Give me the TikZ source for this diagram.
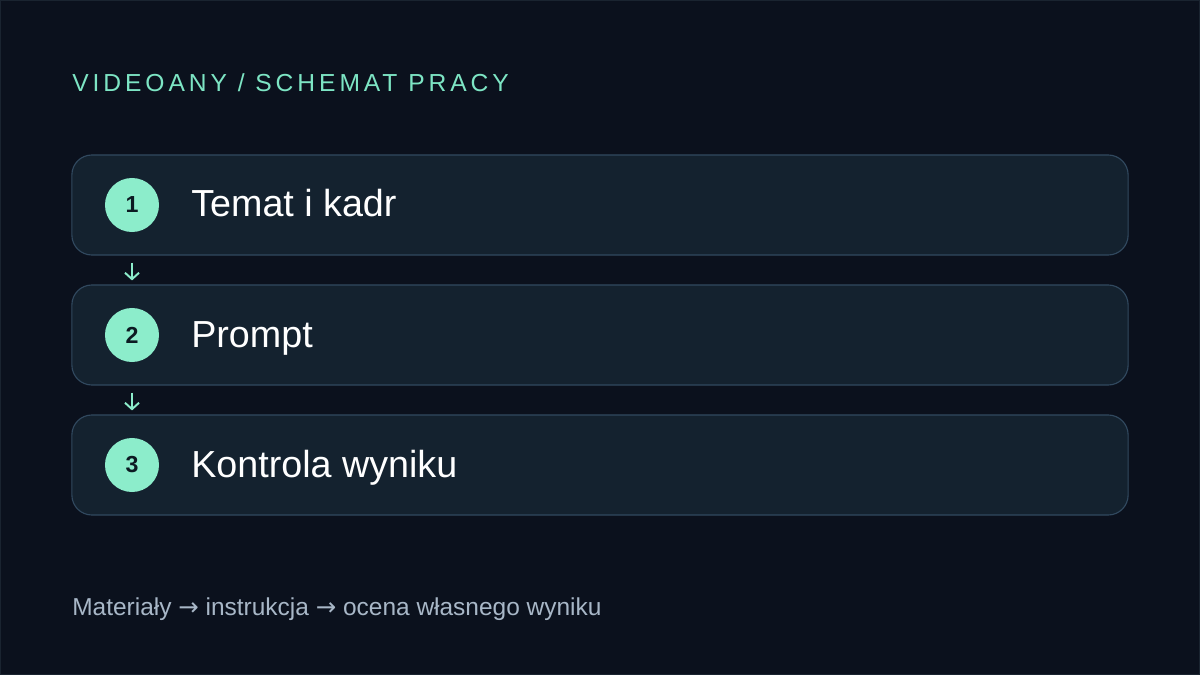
\documentclass[tikz,border=0pt]{standalone}
\usepackage{fontspec}
\setmainfont{Liberation Sans}
\newfontfamily\symfont{DejaVu Sans}
\usetikzlibrary{arrows.meta}
\definecolor{bgcol}{HTML}{0B111D}
\definecolor{frame}{HTML}{1A2430}
\definecolor{boxfill}{HTML}{14222F}
\definecolor{boxline}{HTML}{31495F}
\definecolor{mint}{HTML}{8CEDCB}
\definecolor{titlecol}{HTML}{7DE5C4}
\definecolor{numcol}{HTML}{0C1A22}
\definecolor{footcol}{HTML}{A8B7C7}
\tikzset{
  stepbox/.style = {draw=boxline, fill=boxfill, line width=0.8pt, rounded corners=0.5cm,
    minimum width=26.4cm, minimum height=2.5cm, inner sep=0pt},
  numdot/.style = {circle, fill=mint, minimum size=1.35cm, inner sep=0pt, text=numcol,
    font=\fontsize{16.5}{19}\selectfont\bfseries},
  steplabel/.style = {anchor=base west, inner sep=0pt, text=white,
    font=\fontsize{26.8}{31}\selectfont},
  flow/.style = {draw=mint, line width=1.4pt, shorten <=0.175cm, shorten >=0.1cm,
    -{Straight Barb[length=4.5pt, width=10pt]}},
}
\newcommand{\sarrow}{{\symfont →}}

\begin{document}
\begin{tikzpicture}[x=0.025cm, y=-0.025cm]
  \fill[bgcol] (0,0) rectangle (1200,675);
  \draw[frame, line width=0.6pt] (0.5,0.5) rectangle (1199.5,674.5);

  % title
  \node [anchor=base west, inner sep=0pt, text=titlecol,
    font=\fontsize{17.5}{20}\selectfont\addfontfeature{LetterSpace=16}] (title) at (72,92)
    {VIDEOANY / SCHEMAT PRACY};

  % steps
  \node [stepbox] (b1) at (600,205) {};
  \node [stepbox] (b2) at (600,335) {};
  \node [stepbox] (b3) at (600,465) {};

  \node [numdot] (d1) at (132,205) {1};
  \node [numdot] (d2) at (132,335) {2};
  \node [numdot] (d3) at (132,465) {3};

  \node [steplabel] (t1) at (191,217) {Temat i kadr};
  \node [steplabel] (t2) at (191,347) {Prompt};
  \node [steplabel] (t3) at (191,477) {Kontrola wyniku};

  \draw [flow] (b1.south -| d1) -- (b2.north -| d1);
  \draw [flow] (b2.south -| d2) -- (b3.north -| d2);

  % footer
  \node [anchor=base west, inner sep=0pt, text=footcol,
    font=\fontsize{17.4}{20}\selectfont] (foot) at (72,615)
    {Materiały \sarrow{} instrukcja \sarrow{} ocena własnego wyniku};
\end{tikzpicture}
\end{document}
